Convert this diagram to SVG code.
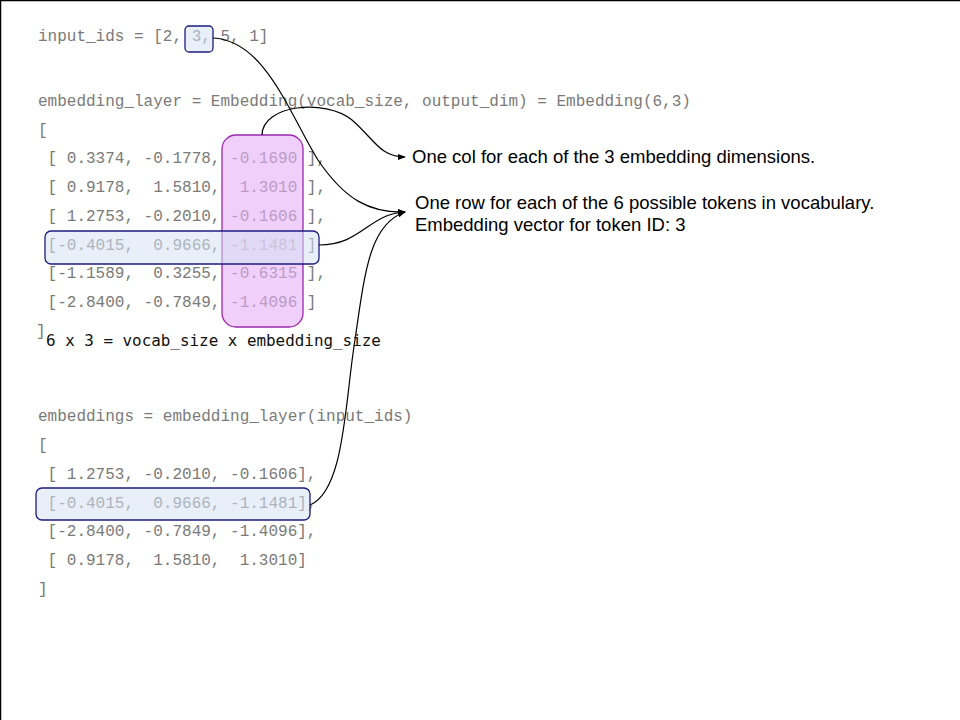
<svg xmlns="http://www.w3.org/2000/svg" width="960" height="720" viewBox="0 0 960 720">
<defs>
<style>
.code{font-family:"Liberation Mono","Courier New",monospace;font-size:16px;fill:#7a7a7a;white-space:pre}
.note{font-family:"DejaVu Sans Mono",monospace;font-size:15.9px;fill:#111;white-space:pre}
.lab{font-family:"Liberation Sans",Arial,sans-serif;font-size:18.5px;fill:#000}
.conn{fill:none;stroke:#000;stroke-width:1.2}
.blue{fill:#d6e2f3;fill-opacity:0.55;stroke:#1c1c80;stroke-width:1.3}
.purple{fill:#e6b0f8;fill-opacity:0.6;stroke:#9b27b0;stroke-width:1.3}
</style>
<marker id="arr" viewBox="0 0 10 10" refX="9" refY="5" markerWidth="8" markerHeight="8" markerUnits="userSpaceOnUse" orient="auto">
<path d="M0,1 L10,5 L0,9 Z" fill="#000"/>
</marker>
</defs>
<rect width="960" height="720" fill="#fff"/>
<line x1="0.5" y1="0" x2="0.5" y2="720" stroke="#000" stroke-width="1.5"/>
<line x1="0" y1="0.5" x2="960" y2="0.5" stroke="#000" stroke-width="1.5"/>

<g id="input-ids">
<text class="code" x="38" y="41">input_ids = [2, 3, 5, 1]</text>
<rect class="blue" x="185" y="26" width="28" height="26" rx="4"/>
</g>

<g id="embedding-layer">
<text class="code" x="38" y="106">embedding_layer = Embedding(vocab_size, output_dim) = Embedding(6,3)</text>
<text class="code" x="38" y="135">[</text>
<text class="code" x="38" y="163"> [ 0.3374, -0.1778, -0.1690 ],</text>
<text class="code" x="38" y="192"> [ 0.9178,  1.5810,  1.3010 ],</text>
<text class="code" x="38" y="221"> [ 1.2753, -0.2010, -0.1606 ],</text>
<text class="code" x="38" y="250"> [-0.4015,  0.9666, -1.1481 ]</text>
<text class="code" x="38" y="278"> [-1.1589,  0.3255, -0.6315 ],</text>
<text class="code" x="38" y="307"> [-2.8400, -0.7849, -1.4096 ]</text>
<text class="code" x="36" y="336">]</text>
</g>

<g id="column-highlight">
<rect class="purple" x="222" y="135" width="81" height="192" rx="14"/>
</g>
<g id="row-highlight">
<rect class="blue" x="45" y="231" width="274" height="33" rx="6"/>
</g>

<g id="shape-note">
<text class="note" x="46" y="346">6 x 3 = vocab_size x embedding_size</text>
</g>

<g id="embeddings">
<text class="code" x="38" y="421">embeddings = embedding_layer(input_ids)</text>
<text class="code" x="38" y="450">[</text>
<text class="code" x="38" y="479"> [ 1.2753, -0.2010, -0.1606],</text>
<text class="code" x="38" y="508"> [-0.4015,  0.9666, -1.1481],</text>
<text class="code" x="38" y="536"> [-2.8400, -0.7849, -1.4096],</text>
<text class="code" x="38" y="565"> [ 0.9178,  1.5810,  1.3010]</text>
<text class="code" x="38" y="594">]</text>
<rect class="blue" x="36" y="488" width="274" height="32" rx="6"/>
</g>

<g id="label-col">
<text class="lab" x="412" y="163">One col for each of the 3 embedding dimensions.</text>
</g>
<g id="label-row">
<text class="lab" x="415" y="209">One row for each of the 6 possible tokens in vocabulary.</text>
<text class="lab" x="415" y="231">Embedding vector for token ID: 3</text>
</g>

<g id="connectors">
<path class="conn" marker-end="url(#arr)" d="M213,38 C265,40 290,115 318,160 C345,200 370,213 405,212"/>
<path class="conn" marker-end="url(#arr)" d="M262,135 C262,105 325,98 352,120 C375,140 380,157 405,157"/>
<path class="conn" marker-end="url(#arr)" d="M319,245 C362,245 368,214 405,212"/>
<path class="conn" marker-end="url(#arr)" d="M310,505 C345,490 345,400 355,340 C365,270 370,224 405,212"/>
</g>
</svg>
